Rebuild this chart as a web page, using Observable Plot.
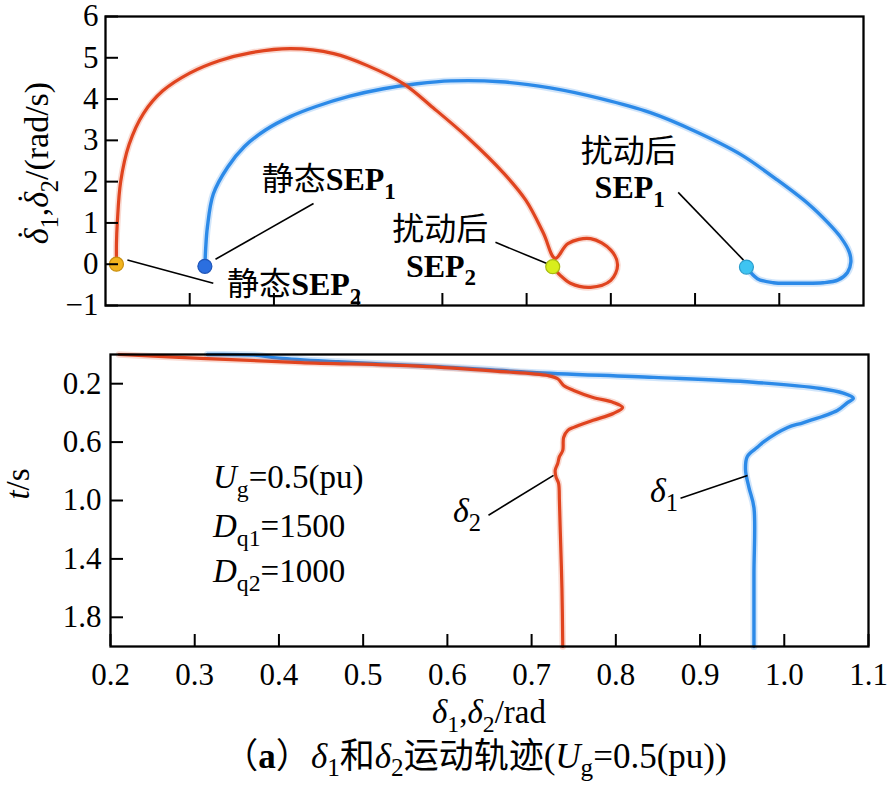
<!DOCTYPE html>
<html>
<head>
<meta charset="utf-8">
<script src="https://cdn.jsdelivr.net/npm/d3@7"></script>
<script src="https://cdn.jsdelivr.net/npm/@observablehq/plot@0.6"></script>
<style>
  body { margin: 0; background: #fff; }
  #wrap { position: relative; width: 891px; height: 787px; }
  #wrap svg { display: block; }
  .cap {
    position: absolute; left: 0; top: 737px; width: 950px; text-align: center;
    font-family: "Liberation Serif", Tinos, "DejaVu Serif", "Noto Sans CJK SC", serif;
    font-size: 35px; line-height: 40px; color: #000; white-space: nowrap;
  }
  .cap sub { font-size: 0.72em; vertical-align: -0.32em; line-height: 0; }
</style>
</head>
<body>
<div id="wrap"></div>
<script>
const FONT = '"Liberation Serif", Tinos, "DejaVu Serif", "Noto Sans CJK SC", serif';
const RED = "#e0441f";
const BLUE = "#2c8ae8";

// Phase-plane trajectory of δ2: [δ2 (rad), dδ2/dt (rad/s)]
const phase2 = [
  [0.213, 0], [0.213, 0.5], [0.214, 1.0], [0.218, 2.0], [0.228, 2.9], [0.245, 3.65],
  [0.268, 4.2], [0.30, 4.63], [0.335, 4.93], [0.372, 5.12], [0.42, 5.22], [0.471, 5.10],
  [0.511, 4.81], [0.554, 4.37], [0.589, 3.79], [0.630, 3.07], [0.673, 2.20], [0.699, 1.55],
  [0.72, 0.75], [0.734, 0.14], [0.749, 0.5], [0.776, 0.62], [0.80, 0.34], [0.808, -0.02],
  [0.80, -0.39], [0.776, -0.56], [0.752, -0.46], [0.74, -0.27], [0.731, -0.06]
];
// Phase-plane trajectory of δ1: [δ1 (rad), dδ1/dt (rad/s)]
const phase1 = [
  [0.318, -0.05], [0.319, 0.4], [0.321, 0.9], [0.328, 1.7], [0.345, 2.35], [0.365, 2.85],
  [0.39, 3.25], [0.42, 3.58], [0.45, 3.82], [0.49, 4.07], [0.53, 4.25], [0.57, 4.37],
  [0.61, 4.44], [0.669, 4.42], [0.728, 4.27], [0.788, 4.01], [0.847, 3.67], [0.90, 3.22],
  [0.954, 2.66], [0.997, 2.05], [1.034, 1.47], [1.058, 1.0], [1.073, 0.65], [1.083, 0.3],
  [1.085, 0.05], [1.081, -0.2], [1.070, -0.38], [1.052, -0.45], [1.02, -0.46], [0.993, -0.45],
  [0.974, -0.35], [0.961, -0.07]
];
// Time responses: [t (s), δ (rad)]
const time2 = [
  [0, 0.21], [0.027, 0.307], [0.055, 0.426], [0.08, 0.566], [0.115, 0.66], [0.144, 0.719],
  [0.166, 0.731], [0.212, 0.738], [0.246, 0.75], [0.294, 0.773], [0.328, 0.797], [0.363, 0.808],
  [0.404, 0.797], [0.451, 0.773], [0.499, 0.75], [0.52, 0.743], [0.568, 0.738], [0.657, 0.737],
  [0.70, 0.733], [0.746, 0.731], [0.793, 0.728], [0.84, 0.729], [0.882, 0.732], [1.0, 0.733],
  [1.204, 0.734], [1.6, 0.736], [2.0, 0.737]
];
const time1 = [
  [0, 0.315], [0.004, 0.37], [0.025, 0.40], [0.05, 0.47], [0.075, 0.56], [0.1, 0.64],
  [0.123, 0.70], [0.157, 0.845], [0.19, 0.963], [0.233, 1.043], [0.265, 1.07], [0.30, 1.082],
  [0.33, 1.075], [0.383, 1.063], [0.466, 1.023], [0.50, 1.004], [0.60, 0.975], [0.636, 0.968],
  [0.70, 0.956], [0.79, 0.954], [0.91, 0.958], [1.05, 0.964], [1.5, 0.964], [2.0, 0.964]
];

// Equilibrium points in the phase plane
const sepDelta = [0.213, 0.318, 0.731, 0.961];
const sepOmega = [0, -0.05, -0.06, -0.07];
const sepFill = ["#f2b41e", "#2b6fe0", "#d8ee1c", "#3ec4f2"];
const sepStroke = ["#c98f10", "#1f55b8", "#a8bb10", "#2a9ccc"];

// Ticks
const deltaTicks = [0.2, 0.3, 0.4, 0.5, 0.6, 0.7, 0.8, 0.9, 1.0, 1.1];
const omegaTicks = [-1, 0, 1, 2, 3, 4, 5, 6];
const timeTicks = [0.2, 0.6, 1.0, 1.4, 1.8];

// Annotation leaders (data units)
const topLeaderX1 = [0.226, 0.3306, 0.663, 0.880];
const topLeaderY1 = [0.10, 0.12, 0.53, 1.74];
const topLeaderX2 = [0.328, 0.447, 0.732, 0.9575];
const topLeaderY2 = [-0.46, 1.47, -0.05, 0.10];
const botLeaderX1 = [0.6488, 0.8768];
const botLeaderT1 = [1.101, 0.985];
const botLeaderX2 = [0.726, 0.9563];
const botLeaderT2 = [0.828, 0.828];

const style = {fontFamily: FONT, fontSize: "30px", color: "black", background: "white", overflow: "visible"};

const topPlot = Plot.plot({
  width: 891, height: 320,
  marginLeft: 105, marginRight: 28, marginTop: 16, marginBottom: 15,
  style,
  x: {domain: [0.2, 1.1]},
  y: {domain: [-1, 6]},
  marks: [
    Plot.line(phase1, {x: d => d[0], y: d => d[1], stroke: BLUE, strokeWidth: 7, strokeOpacity: 0.22, curve: "catmull-rom"}),
    Plot.line(phase1, {x: d => d[0], y: d => d[1], stroke: BLUE, strokeWidth: 3.4, curve: "catmull-rom"}),
    Plot.line(phase2, {x: d => d[0], y: d => d[1], stroke: RED, strokeWidth: 6.5, strokeOpacity: 0.2, curve: "catmull-rom"}),
    Plot.line(phase2, {x: d => d[0], y: d => d[1], stroke: RED, strokeWidth: 3.2, curve: "catmull-rom"}),
    Plot.link(topLeaderX1.map((_, i) => i), {
      x1: i => topLeaderX1[i], y1: i => topLeaderY1[i], x2: i => topLeaderX2[i], y2: i => topLeaderY2[i],
      stroke: "black", strokeWidth: 1.6
    }),
    Plot.dot(sepDelta.map((_, i) => i), {
      x: i => sepDelta[i], y: i => sepOmega[i], r: 7, fill: i => sepFill[i], stroke: i => sepStroke[i], strokeWidth: 1.2
    }),
    Plot.frame({stroke: "black", strokeWidth: 2.3}),
    Plot.axisY({ticks: omegaTicks, tickSize: -13, strokeWidth: 2, tickFormat: () => "", label: null}),
    Plot.axisY({ticks: omegaTicks, tickSize: 0, tickPadding: 7, tickFormat: d3.format("d"), fontSize: 31, label: null}),
    Plot.axisX({ticks: deltaTicks.slice(1, -1), tickSize: -12, strokeWidth: 2, tickFormat: () => "", label: null})
  ]
});

const botPlot = Plot.plot({
  width: 891, height: 415,
  marginLeft: 110, marginRight: 23, marginTop: 34, marginBottom: 89,
  style,
  x: {domain: [0.2, 1.1]},
  y: {domain: [0, 2], reverse: true},
  marks: [
    Plot.line(time1, {x: d => d[1], y: d => d[0], stroke: BLUE, strokeWidth: 7, strokeOpacity: 0.22, curve: "catmull-rom"}),
    Plot.line(time1, {x: d => d[1], y: d => d[0], stroke: BLUE, strokeWidth: 3.4, curve: "catmull-rom"}),
    Plot.line(time2, {x: d => d[1], y: d => d[0], stroke: RED, strokeWidth: 6.5, strokeOpacity: 0.2, curve: "catmull-rom"}),
    Plot.line(time2, {x: d => d[1], y: d => d[0], stroke: RED, strokeWidth: 3.2, curve: "catmull-rom"}),
    Plot.link(botLeaderX1.map((_, i) => i), {
      x1: i => botLeaderX1[i], y1: i => botLeaderT1[i], x2: i => botLeaderX2[i], y2: i => botLeaderT2[i],
      stroke: "black", strokeWidth: 1.6
    }),
    Plot.frame({stroke: "black", strokeWidth: 2.3}),
    Plot.axisY({ticks: timeTicks, tickSize: -13, strokeWidth: 2, tickFormat: () => "", label: null}),
    Plot.axisY({ticks: timeTicks, tickSize: 0, tickPadding: 9, tickFormat: d3.format(".1f"), fontSize: 31, label: null}),
    Plot.axisX({ticks: deltaTicks, tickSize: -12, strokeWidth: 2, tickFormat: () => "", label: null}),
    Plot.axisX({ticks: deltaTicks, tickSize: 0, tickPadding: 16, tickFormat: d3.format(".1f"), fontSize: 31, label: null})
  ]
});

// Text with italic / bold runs, subscripts and raised accents
function rich(svg, x, y, parts, {size = 30, anchor = "start", rotate = 0} = {}) {
  const text = d3.select(svg).append("text")
    .attr("transform", `translate(${x},${y})` + (rotate ? ` rotate(${rotate})` : ""))
    .attr("text-anchor", anchor)
    .attr("font-family", FONT)
    .attr("font-size", size)
    .attr("fill", "black");
  let shift = 0;
  for (const p of parts) {
    const s = p.sub ? size * 0.28 : p.raise ? -size * p.raise : 0;
    const ts = text.append("tspan").text(p.t).attr("dy", s - shift);
    shift = s;
    if (p.dx) ts.attr("dx", p.dx * size);
    if (p.sub) ts.attr("font-size", size * 0.72);
    if (p.i) ts.attr("font-style", "italic");
    if (p.b) ts.attr("font-weight", "bold");
  }
  return text;
}

// Phase-plane labels
{
  const sx = topPlot.scale("x"), sy = topPlot.scale("y");
  const at = (x, y) => [sx.apply(x), sy.apply(y)];
  const dot = {t: "\u02D9", raise: 0.2, dx: -0.36};
  rich(topPlot, 48, 163, [
    {t: "δ", i: 1}, dot, {t: "1", sub: 1, dx: 0.02}, {t: ","},
    {t: "δ", i: 1}, dot, {t: "2", sub: 1, dx: 0.02}, {t: "/(rad/s)"}
  ], {size: 34, anchor: "middle", rotate: -90});
  rich(topPlot, ...at(0.386, 1.79), [{t: "静态"}, {t: "SEP", b: 1}, {t: "1", sub: 1, b: 1}], {size: 32});
  rich(topPlot, ...at(0.345, -0.75), [{t: "静态"}, {t: "SEP", b: 1}, {t: "2", sub: 1, b: 1}], {size: 32});
  rich(topPlot, ...at(0.598, 0.58), [{t: "扰动后"}], {size: 32, anchor: "middle"});
  rich(topPlot, ...at(0.599, -0.31), [{t: "SEP", b: 1}, {t: "2", sub: 1, b: 1}], {size: 32, anchor: "middle"});
  rich(topPlot, ...at(0.822, 2.46), [{t: "扰动后"}], {size: 32, anchor: "middle"});
  rich(topPlot, ...at(0.823, 1.59), [{t: "SEP", b: 1}, {t: "1", sub: 1, b: 1}], {size: 32, anchor: "middle"});
}

// Time-response labels
{
  const sx = botPlot.scale("x"), sy = botPlot.scale("y");
  const at = (x, t) => [sx.apply(x), sy.apply(t)];
  rich(botPlot, 29, 164, [{t: "t", i: 1}, {t: "/s"}], {size: 33, anchor: "middle", rotate: -90});
  rich(botPlot, ...at(0.6073, 1.149), [{t: "δ", i: 1}, {t: "2", sub: 1}], {size: 34});
  rich(botPlot, ...at(0.8412, 1.012), [{t: "δ", i: 1}, {t: "1", sub: 1}], {size: 34});
  rich(botPlot, ...at(0.3223, 0.917), [{t: "U", i: 1}, {t: "g", sub: 1}, {t: "=0.5(pu)"}], {size: 33});
  rich(botPlot, ...at(0.3223, 1.252), [{t: "D", i: 1}, {t: "q1", sub: 1}, {t: "=1500"}], {size: 33});
  rich(botPlot, ...at(0.3223, 1.56), [{t: "D", i: 1}, {t: "q2", sub: 1}, {t: "=1000"}], {size: 33});
  rich(botPlot, 489, 403, [
    {t: "δ", i: 1}, {t: "1", sub: 1}, {t: ","}, {t: "δ", i: 1}, {t: "2", sub: 1}, {t: "/rad"}
  ], {size: 33, anchor: "middle"});
}

const wrap = document.getElementById("wrap");
wrap.append(topPlot, botPlot);
const cap = document.createElement("div");
cap.className = "cap";
cap.innerHTML = "（<b>a</b>）<i>δ</i><sub>1</sub>和<i>δ</i><sub>2</sub>运动轨迹(<i>U</i><sub>g</sub>=0.5(pu))";
wrap.append(cap);
</script>
</body>
</html>
